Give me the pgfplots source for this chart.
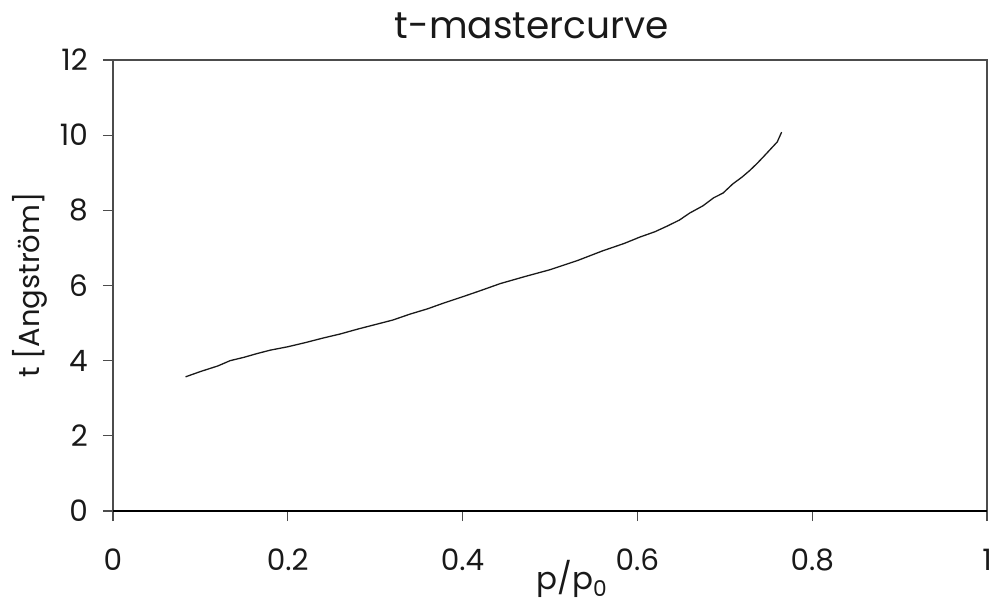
\documentclass[border=0pt]{standalone}
\usepackage{fontspec}
\setmainfont{Poppins}
\usepackage{pgfplots}
\pgfplotsset{compat=1.18}

% thickness t of the adsorbed layer against relative pressure p/p0
\pgfplotstableread{
x      t
0.083  3.57
0.100  3.71
0.120  3.86
0.134  4.00
0.150  4.09
0.165  4.19
0.180  4.28
0.200  4.37
0.220  4.48
0.240  4.60
0.260  4.71
0.280  4.84
0.300  4.96
0.320  5.08
0.340  5.24
0.360  5.38
0.378  5.53
0.400  5.70
0.420  5.86
0.443  6.05
0.470  6.23
0.500  6.42
0.531  6.66
0.560  6.92
0.585  7.12
0.603  7.29
0.620  7.43
0.634  7.58
0.648  7.74
0.660  7.93
0.675  8.12
0.687  8.33
0.698  8.46
0.709  8.70
0.720  8.89
0.729  9.07
0.737  9.25
0.744  9.42
0.752  9.62
0.760  9.82
0.765  10.08
}\tcurve

\begin{document}
\begin{tikzpicture}
\path[use as bounding box] (-113pt,-91pt) rectangle (879pt,511pt);
\begin{axis}[
  scale only axis, width=874pt, height=451pt,
  xmin=0, xmax=1, ymin=0, ymax=12,
  xtick={0,0.2,0.4,0.6,0.8,1}, ytick={0,2,4,6,8,10,12},
  xticklabels={0,0.2,0.4,0.6,0.8,1},
  tick align=outside, major tick length=10pt,
  xtick pos=bottom, ytick pos=left,
  axis line style={draw=black!70, line width=1.1pt},
  tick style={draw=black!70, line width=1.1pt},
  /pgf/number format/assume math mode=true,
  ticklabel style={font=\fontsize{29.5}{35}\selectfont, text=black!90, inner sep=0pt},
  xticklabel style={anchor=base, yshift=-49pt},
  yticklabel style={anchor=east, xshift=-15pt},
  title={t-mastercurve},
  title style={at={([yshift=15pt]axis description cs:0.479,1)}, anchor=base,
    inner sep=0pt, font=\fontsize{37.5}{45}\selectfont, text=black!90},
  xlabel={p/p\textsubscript{0}},
  xlabel style={at={([yshift=-78pt]axis description cs:0.525,0)}, anchor=base,
    inner sep=0pt, font=\fontsize{31}{37}\selectfont, text=black!90},
  ylabel={t [Angström]},
  ylabel style={at={([xshift=-73pt]axis description cs:0,0.501)}, anchor=base,
    inner sep=0pt, font=\fontsize{29}{35}\selectfont, text=black!90},
  clip=false,
]
\addplot[black!90, line width=1.3pt, no marks] table[x=x, y=t] {\tcurve};
\draw[black, line width=1.6pt] (axis cs:0,0) -- (axis cs:1,0);
\end{axis}
\end{tikzpicture}
\end{document}
